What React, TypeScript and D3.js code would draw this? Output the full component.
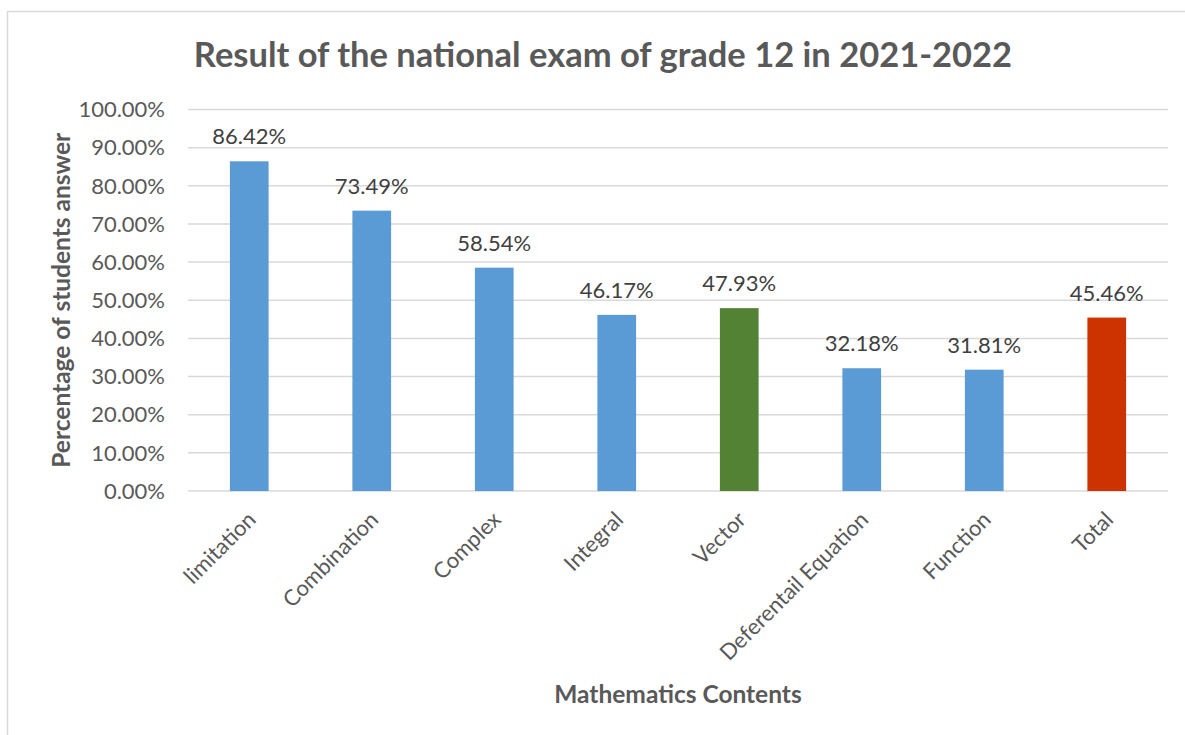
import React from "react";
import * as d3 from "d3";

const categories = ["limitation", "Combination", "Complex", "Integral", "Vector", "Deferentail Equation", "Function", "Total"];
const values = [86.42, 73.49, 58.54, 46.17, 47.93, 32.18, 31.81, 45.46];
const barColors = ["#5B9BD5", "#5B9BD5", "#5B9BD5", "#5B9BD5", "#548235", "#5B9BD5", "#5B9BD5", "#CC3300"];
const yTicks = [0, 10, 20, 30, 40, 50, 60, 70, 80, 90, 100];
const title = "Result of the national exam of grade 12 in 2021-2022";
const xTitle = "Mathematics Contents";
const yTitle = "Percentage of students answer";

const W = 1185;
const H = 735;
const FONT = "Lato, 'Open Sans', sans-serif";
const TEXT = "#595959";

export default function App() {
  const left = 188, right = 1168, top = 109.5, bottom = 491;
  const x = d3.scaleBand<string>().domain(categories).range([left, right]).paddingInner(0.684).paddingOuter(0.342);
  const y = d3.scaleLinear().domain([0, 100]).range([bottom, top]);
  const fmt = (v: number) => v.toFixed(2) + "%";

  return (
    <svg width={W} height={H} style={{ position: "absolute", left: 0, top: 0, background: "#fff" }} fontFamily={FONT}>
      <rect x={7.5} y={11.5} width={W + 20} height={H + 20} fill="#fff" stroke="#D9D9D9" strokeWidth={1.5} />
      <text x={603} y={67} textAnchor="middle" fontSize={34.5} fontWeight="bold" fill={TEXT}>{title}</text>
      {yTicks.map((t) => (
        <g key={t}>
          <line x1={left} x2={right} y1={y(t)} y2={y(t)} stroke="#D9D9D9" strokeWidth={1.5} />
          <text x={165} y={y(t)} dy="0.35em" textAnchor="end" fontSize={22} fill={TEXT}>{fmt(t)}</text>
        </g>
      ))}
      {categories.map((c, i) => {
        const bx = x(c)!;
        const bw = x.bandwidth();
        const cx = bx + bw / 2;
        return (
          <g key={c}>
            <rect x={bx} y={y(values[i])} width={bw} height={bottom - y(values[i])} fill={barColors[i]} />
            <text x={cx} y={y(values[i]) - 17} textAnchor="middle" fontSize={22} fill="#404040">{fmt(values[i])}</text>
            <text transform={`translate(${cx + 8},${bottom + 30}) rotate(-45)`} textAnchor="end" fontSize={22} fill={TEXT}>{c}</text>
          </g>
        );
      })}
      <text x={678} y={703} textAnchor="middle" fontSize={24.5} fontWeight="bold" fill={TEXT}>{xTitle}</text>
      <text transform={`translate(70,${(top + bottom) / 2 - 0}) rotate(-90)`} textAnchor="middle" fontSize={24.5} fontWeight="bold" fill={TEXT}>{yTitle}</text>
    </svg>
  );
}
